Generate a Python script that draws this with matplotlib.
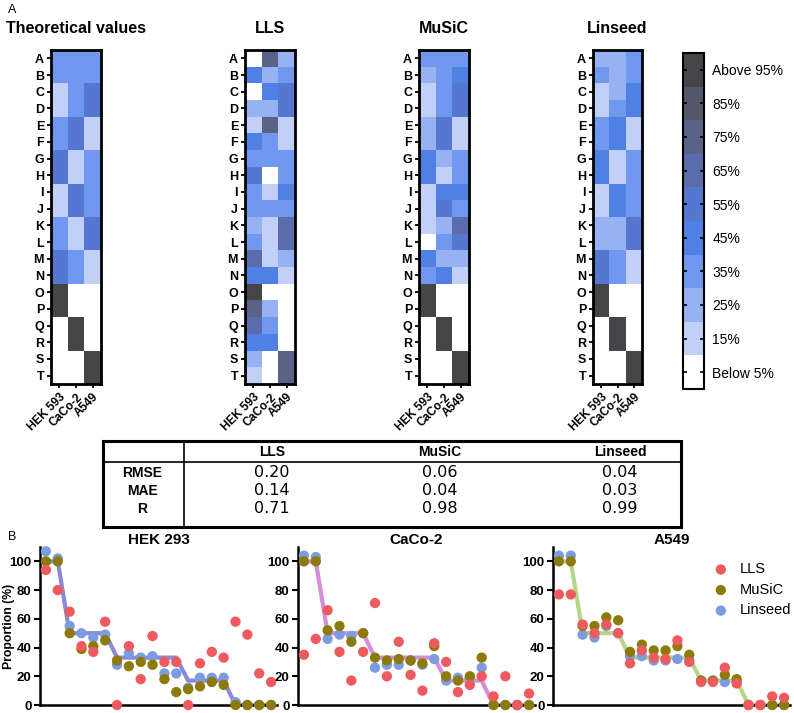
import numpy as np
import matplotlib
matplotlib.use("Agg")
import matplotlib.pyplot as plt
from matplotlib.colors import ListedColormap, BoundaryNorm

plt.rcParams['font.family'] = ['Liberation Sans', 'DejaVu Sans']

# ---------------- data ----------------
rows = list("ABCDEFGHIJKLMNOPQRST")
heat_cols = ["HEK 593", "CaCo-2", "A549"]
heat_titles = ["Theoretical values", "LLS", "MuSiC", "Linseed"]

theoretical = [[33, 33, 33], [33, 33, 33], [17, 33, 50], [17, 33, 50], [33, 50, 17],
               [33, 50, 17], [50, 17, 33], [50, 17, 33], [17, 50, 33], [17, 50, 33],
               [33, 17, 50], [33, 17, 50], [50, 33, 17], [50, 33, 17], [100, 0, 0],
               [100, 0, 0], [0, 100, 0], [0, 100, 0], [0, 0, 100], [0, 0, 100]]
lls_heat = [[3, 72, 25], [45, 25, 35], [3, 45, 55], [25, 25, 55], [15, 72, 15],
            [45, 38, 15], [38, 38, 38], [55, 3, 38], [38, 15, 45], [38, 38, 38],
            [25, 15, 62], [35, 15, 62], [65, 15, 25], [45, 45, 15], [95, 3, 3],
            [75, 25, 3], [65, 35, 3], [45, 45, 3], [25, 3, 75], [15, 3, 75]]
music_heat = [[35, 35, 35], [25, 35, 45], [15, 35, 55], [15, 35, 55], [25, 55, 15],
              [25, 55, 15], [45, 25, 35], [45, 15, 35], [15, 45, 45], [15, 55, 35],
              [15, 25, 65], [3, 35, 55], [45, 25, 25], [35, 45, 15], [100, 0, 0],
              [100, 0, 0], [0, 100, 0], [0, 100, 0], [0, 0, 100], [0, 0, 100]]
linseed_heat = [[25, 25, 35], [35, 25, 35], [15, 25, 48], [15, 35, 48], [38, 45, 15],
                [38, 48, 15], [48, 15, 35], [48, 15, 35], [15, 48, 35], [15, 48, 35],
                [25, 25, 55], [25, 25, 55], [55, 35, 15], [55, 35, 15], [100, 0, 0],
                [100, 0, 0], [0, 100, 0], [0, 100, 0], [0, 0, 100], [0, 0, 100]]

cbar_labels = ["Below 5%", "15%", "25%", "35%", "45%", "55%", "65%", "75%", "85%", "Above 95%"]
bin_edges = [0, 10, 20, 30, 40, 50, 60, 70, 80, 90, 101]
bin_colors = ["#ffffff", "#c2d0f7", "#97b2f2", "#6f98ee", "#4f80e3",
              "#5677d0", "#5a6cab", "#5b6288", "#54566a", "#454548"]

table_methods = ["LLS", "MuSiC", "Linseed"]
table_metrics = ["RMSE", "MAE", "R"]
table_values = [["0.20", "0.06", "0.04"],
                ["0.14", "0.04", "0.03"],
                ["0.71", "0.98", "0.99"]]

panel_titles = ["HEK 293", "CaCo-2", "A549"]
hek_lls = [94, 80, 65, 41, 37, 58, 0, 41, 18, 48, 30, 30, 0, 29, 37, 33, 58, 49, 22, 16]
hek_music = [100, 100, 50, 39, 41, 45, 31, 27, 30, 28, 18, 9, 11, 13, 16, 14, 0, 0, 0, 0]
hek_linseed = [107, 102, 55, 50, 47, 49, 28, 36, 33, 34, 22, 22, 12, 19, 19, 19, 2, 0, 0, 0]
caco_lls = [35, 46, 66, 37, 17, 37, 71, 20, 44, 21, 10, 43, 30, 9, 14, 20, 6, 20, 0, 8]
caco_music = [100, 100, 52, 55, 44, 50, 33, 31, 32, 31, 29, 41, 20, 17, 20, 33, 0, 0, 0, 0]
caco_linseed = [104, 103, 46, 49, 48, 50, 26, 28, 28, 31, 28, 32, 17, 19, 19, 26, 0, 0, 0, 0]
a549_lls = [77, 77, 56, 50, 56, 50, 29, 38, 33, 32, 45, 30, 16, 16, 26, 15, 0, 0, 6, 5]
a549_music = [100, 100, 55, 55, 61, 59, 37, 42, 38, 38, 41, 35, 17, 17, 21, 18, 0, 0, 0, 0]
a549_linseed = [104, 104, 49, 47, 55, 50, 34, 34, 31, 31, 32, 31, 17, 17, 16, 16, 0, 0, 0, 0]

method_names = ["LLS", "MuSiC", "Linseed"]
method_colors = ["#ee5a5e", "#8c7b0a", "#7b9de0"]
line_colors = ["#8c88d8", "#d48fd8", "#b5d68a"]

# ---------------- layout helpers ----------------
W, H = 794, 713
fig = plt.figure(figsize=(W / 100, H / 100), dpi=100)


def box(x0, y0, x1, y1):
    return [x0 / W, 1 - y1 / H, (x1 - x0) / W, (y1 - y0) / H]


cmap = ListedColormap(bin_colors)
norm = BoundaryNorm(bin_edges, cmap.N)

# ---------------- heatmaps ----------------
heat_data = [theoretical, lls_heat, music_heat, linseed_heat]
heat_boxes = [(51, 50, 101, 384), (245, 50, 295, 384), (419, 50, 469, 384), (593, 50, 642, 384)]
for data, title, bx in zip(heat_data, heat_titles, heat_boxes):
    ax = fig.add_axes(box(*bx))
    ax.imshow(np.array(data, dtype=float), cmap=cmap, norm=norm, aspect='auto',
              interpolation='nearest')
    ax.set_yticks(range(len(rows)))
    ax.set_yticklabels(rows, fontsize=9, fontweight='bold')
    ax.set_xticks(range(len(heat_cols)))
    ax.set_xticklabels(heat_cols, fontsize=8.5, fontweight='bold', rotation=45,
                       ha='right', rotation_mode='anchor')
    ax.tick_params(length=3, width=1.3, pad=2)
    for s in ax.spines.values():
        s.set_linewidth(2)
    ax.set_title(title, fontsize=11.5, fontweight='bold', pad=12)

# ---------------- colorbar ----------------
axc = fig.add_axes(box(683, 53, 704, 389))
axc.imshow(np.arange(len(bin_colors)).reshape(-1, 1), cmap=cmap, aspect='auto',
           origin='lower', interpolation='nearest', vmin=-0.5, vmax=len(bin_colors) - 0.5)
axc.set_xticks([])
axc.set_yticks(range(len(cbar_labels)))
axc.set_yticklabels(cbar_labels, fontsize=10)
axc.yaxis.tick_right()
axc.tick_params(axis='y', which='both', left=True, right=True, direction='in',
                length=3, width=1.2, pad=6)
for s in axc.spines.values():
    s.set_linewidth(1.5)

# ---------------- table ----------------
tx0, ty0, tx1, ty1 = 103, 441, 681, 527
axt = fig.add_axes(box(tx0, ty0, tx1, ty1))
axt.set_xlim(tx0, tx1)
axt.set_ylim(ty1, ty0)
axt.axis('off')
axt.plot([tx0, tx1, tx1, tx0, tx0], [ty0, ty0, ty1, ty1, ty0], color='black', lw=2.2,
         clip_on=False, solid_joinstyle='miter')
axt.plot([184, 184], [ty0, ty1], color='black', lw=1.2)
axt.plot([tx0, tx1], [462, 462], color='black', lw=1.2)
col_x = [272, 440, 620]
row_y = [473, 491, 509]
for m, cx in zip(table_methods, col_x):
    axt.text(cx, 452, m, fontsize=10, fontweight='bold', ha='center', va='center')
for i, (metric, ry) in enumerate(zip(table_metrics, row_y)):
    axt.text(142, ry, metric, fontsize=10, fontweight='bold', ha='center', va='center')
    for j, cx in enumerate(col_x):
        axt.text(cx, ry, table_values[i][j], fontsize=11.5, ha='center', va='center',
                 family='DejaVu Sans')

# ---------------- bottom scatter panels ----------------
panel_data = [(hek_lls, hek_music, hek_linseed),
              (caco_lls, caco_music, caco_linseed),
              (a549_lls, a549_music, a549_linseed)]
theo_arr = np.array(theoretical, dtype=float)
panel_boxes = [(40, 547, 277, 705), (298, 547, 535, 705), (553, 547, 790, 705)]
for k, (bx, title, series) in enumerate(zip(panel_boxes, panel_titles, panel_data)):
    ax = fig.add_axes(box(*bx))
    theo_sorted = np.sort(theo_arr[:, k])[::-1]
    x = np.arange(1, len(theo_sorted) + 1)
    ax.plot(x, theo_sorted, color=line_colors[k], lw=3, zorder=2, solid_capstyle='butt')
    orders = [5, 4, 3]
    for vals, name, col, z in zip(series, method_names, method_colors, orders):
        ax.scatter(x, vals, s=55, color=col, edgecolors='none', zorder=z, clip_on=False,
                   label=name)
    ax.set_xlim(0.5, 20.5)
    ax.set_ylim(0, 110)
    ax.set_yticks([0, 20, 40, 60, 80, 100])
    ax.set_xticks([])
    for lab in ax.get_yticklabels():
        lab.set_fontweight('bold')
    ax.tick_params(axis='y', labelsize=9.5, length=4, width=1.5, pad=2)
    ax.spines['top'].set_visible(False)
    ax.spines['right'].set_visible(False)
    ax.spines['left'].set_linewidth(1.8)
    ax.spines['bottom'].set_linewidth(1.8)
    ax.set_title(title, fontsize=11, fontweight='bold', pad=0)
    if k == 0:
        ax.set_ylabel("Proportion (%)", fontsize=8.8, fontweight='bold')
        ax.yaxis.set_label_coords((15 - bx[0]) / (bx[2] - bx[0]), 0.5)
    if k == 2:
        ax.legend(loc='upper right', bbox_to_anchor=(1.03, 0.94), frameon=False,
                  fontsize=10.5, handletextpad=0.3, labelspacing=0.45,
                  scatterpoints=1, borderaxespad=0)

fig.text(8 / W, 1 - 10 / H, "A", fontsize=9, va='center', ha='left')
fig.text(8 / W, 1 - 537 / H, "B", fontsize=9, va='center', ha='left')

fig.savefig("out.png", dpi=100)
